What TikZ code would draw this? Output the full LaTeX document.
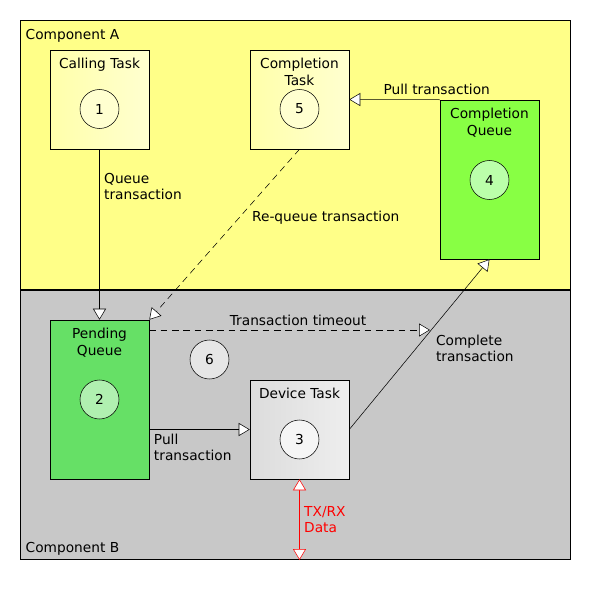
\documentclass[tikz,border=0pt]{standalone}
\usepackage{fontspec}
\setmainfont{DejaVu Sans}
\usetikzlibrary{arrows.meta}
\usetikzlibrary{positioning}
\definecolor{compA}{HTML}{FFFF88}
\definecolor{compB}{HTML}{C8C8C8}
\definecolor{taskA}{HTML}{FFFFAA}
\definecolor{taskB}{HTML}{FFFFD0}
\definecolor{greenA}{HTML}{88FF44}
\definecolor{greenB}{HTML}{66E066}
\definecolor{greenC}{HTML}{BBFFAA}
\definecolor{greenD}{HTML}{B0F0B0}
\definecolor{devA}{HTML}{DCDCDC}
\definecolor{devB}{HTML}{EEEEEE}

\begin{document}
\begin{tikzpicture}[x=0.75pt, y=-0.75pt, font=\fontsize{10.3}{12.2}\selectfont,
  box/.style={draw, thin, minimum width=74.25pt, minimum height=74.25pt, inner sep=0pt},
  qbox/.style={box, minimum height=119.25pt},
  num/.style={draw, thin, circle, minimum size=29.25pt, inner sep=0pt},
  title/.style={anchor=north, align=center, yshift=-3pt},
  tip/.style={-{Triangle[length=8.25pt, width=9.75pt, fill=white]}},
  biptip/.style={{Triangle[length=8.25pt, width=9.75pt, fill=white]}-{Triangle[length=8.25pt, width=9.75pt, fill=white]}},
  ddash/.style={dash pattern=on 5pt off 3.5pt}]

\useasboundingbox (0,0) rectangle (590,600);

% the two components
\draw [thin, fill=compA] (20,20) rectangle (570,290);
\draw [thin, fill=compB] (20,290) rectangle (570,559);
\draw [line width=1.5pt] (20,290) -- (570,290);
\node [anchor=north west] (compa) at (21,24.5) {Component A};
\node [anchor=south west] (compb) at (21,560) {Component B};

% tasks and queues
\node [box, left color=taskA, right color=taskB] (calling) at (99.5,99.5) {};
\node [box, left color=taskA, right color=taskB] (ctask) at (299.5,99.5) {};
\node [qbox, fill=greenA] (cqueue) at (489.5,179.5) {};
\node [qbox, fill=greenB] (pending) at (99.5,399.5) {};
\node [box, left color=devA, right color=devB] (device) at (299.5,429.5) {};

\node [title] (callingt) at (calling.north) {Calling Task};
\node [title] (ctaskt) at (ctask.north) {Completion\\Task};
\node [title] (cqueuet) at (cqueue.north) {Completion\\Queue};
\node [title] (pendingt) at (pending.north) {Pending\\Queue};
\node [title] (devicet) at (device.north) {Device Task};

% numbered steps
\node [num, fill=taskB] (n1) at (99.5,109) {1};
\node [num, fill=taskB] (n5) at (299.5,109) {5};
\node [num, fill=greenC] (n4) at (489.5,180) {4};
\node [num, fill=greenD] (n2) at (99.5,399.5) {2};
\node [num, fill=devA!70!white] (n6) at (209.5,359.5) {6};
\node [num, fill=devB!60!white] (n3) at (299.5,439.5) {3};

% connectors
\draw [tip] (calling) -- (pending) node [pos=0.22, right, align=left] {Queue\\transaction};
\draw [tip, ddash] (ctask.south) -- (pending.north east) node [pos=0.4, right, xshift=6pt] {Re-queue transaction};
\draw [tip] (cqueue.north west) -- (ctask.east) node [pos=0.033, above] {Pull transaction};
\draw [tip] (pending.east |- device.west) -- (device.west) node [pos=0, below right, align=left] {Pull\\transaction};
\draw [tip] (device.east) -- (cqueue.south) node [pos=0.585, anchor=north west, align=left] {Complete\\transaction};

\coordinate (tmo) at (430,330);
\draw [tip, ddash] (pending.north east |- tmo) -- (tmo) node [pos=0.53, above] {Transaction timeout};

\coordinate (wire) at (299.5,560);
\draw [biptip, red] (device.south) -- (wire) node [midway, right, align=left] {TX/RX\\Data};

\end{tikzpicture}
\end{document}
